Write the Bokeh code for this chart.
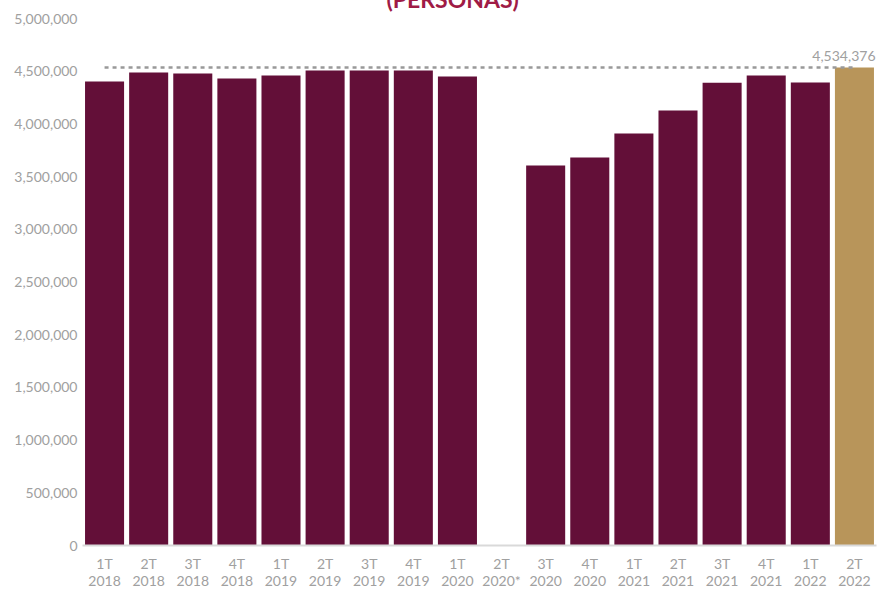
from bokeh.plotting import figure
from bokeh.models import (Range1d, FactorRange, FixedTicker, NumeralTickFormatter,
                          Label, CategoricalAxis, CategoricalTicker, CustomJSTickFormatter)
from bokeh.embed import file_html
from bokeh.resources import INLINE

# ---- data ----
categories = ["1T 2018", "2T 2018", "3T 2018", "4T 2018",
              "1T 2019", "2T 2019", "3T 2019", "4T 2019",
              "1T 2020", "2T 2020*", "3T 2020", "4T 2020",
              "1T 2021", "2T 2021", "3T 2021", "4T 2021",
              "1T 2022", "2T 2022"]
values = [4402000, 4488000, 4478000, 4431000,
          4459000, 4507000, 4507000, 4507000,
          4450000, 0, 3605000, 3681000,
          3909000, 4127000, 4390000, 4459000,
          4393000, 4534376]
reference_value = 4534376
y_ticks = [0, 500000, 1000000, 1500000, 2000000, 2500000,
           3000000, 3500000, 4000000, 4500000, 5000000]
title_text = "(PERSONAS)"

BAR = "#630F38"
GOLD = "#B8955A"
GRAY = "#A0A0A0"
FONT = "Lato"

colors = [BAR] * (len(categories) - 1) + [GOLD]

SHIFT = 24                     # part of the canvas hidden above the page
W, H = 882, 591 + SHIFT
FL, FR, FT, FB = 82, 6, 18 + SHIFT, 46
Y_MAX = 5000000

p = figure(x_range=FactorRange(*categories), y_range=Range1d(0, Y_MAX),
           width=W, height=H, output_backend="svg", toolbar_location=None,
           min_border_left=FL, min_border_right=FR,
           min_border_top=FT, min_border_bottom=FB)
p.styles = {"position": "absolute", "left": "0px", "top": f"-{SHIFT}px"}
p.outline_line_color = None
p.xgrid.grid_line_color = None
p.ygrid.grid_line_color = None
p.background_fill_color = "white"
p.border_fill_color = "white"

# title (cut at the top of the page as in the reference)
p.title.text = title_text
p.title.align = "left"
p.title.offset = 304
p.title.standoff = 11
p.title.text_font = FONT
p.title.text_font_size = "23px"
p.title.text_font_style = "bold"
p.title.text_color = "#9F1B46"

p.vbar(x=categories, top=values, width=0.885, fill_color=colors, line_color=None)

p.line(x=[categories[0], categories[-1]], y=[reference_value, reference_value],
       line_dash="4 4", line_width=2.5, line_color="#999999")

# value label above the last bar (kept inside the frame, which clips it)
frame_h = H - FT - FB
y_lab = Y_MAX * ((H - SHIFT - FB) - 60) / frame_h
lab = Label(x=len(categories), y=y_lab, text=f"{reference_value:,}",
            text_align="right", text_baseline="bottom", x_offset=-1,
            text_font=FONT, text_font_size="14px", text_color=GRAY)
p.add_layout(lab)

# axes: quarter on the first line, year on the second
def style_x(ax, standoff, part):
    ax.formatter = CustomJSTickFormatter(code=f"return tick.split(' ')[{part}];")
    ax.major_tick_line_color = None
    ax.minor_tick_line_color = None
    ax.major_tick_out = 0
    ax.major_tick_in = 0
    ax.major_label_standoff = standoff
    ax.major_label_text_font = FONT
    ax.major_label_text_font_size = "14px"
    ax.major_label_text_color = GRAY

xa = p.xaxis[0]
style_x(xa, 9, 0)
xa.axis_line_color = "#D9D9D9"
xa.axis_line_width = 2

xa2 = CategoricalAxis(ticker=CategoricalTicker())
style_x(xa2, -3, 1)
xa2.axis_line_color = None
p.add_layout(xa2, "below")

ya = p.yaxis[0]
ya.ticker = FixedTicker(ticks=y_ticks)
ya.formatter = NumeralTickFormatter(format="0,0")
ya.axis_line_color = None
ya.major_tick_line_color = None
ya.minor_tick_line_color = None
ya.major_tick_out = 0
ya.major_label_standoff = 5
ya.major_label_text_font = FONT
ya.major_label_text_font_size = "14px"
ya.major_label_text_color = GRAY

open("out.html", "w").write(file_html(p, INLINE))
